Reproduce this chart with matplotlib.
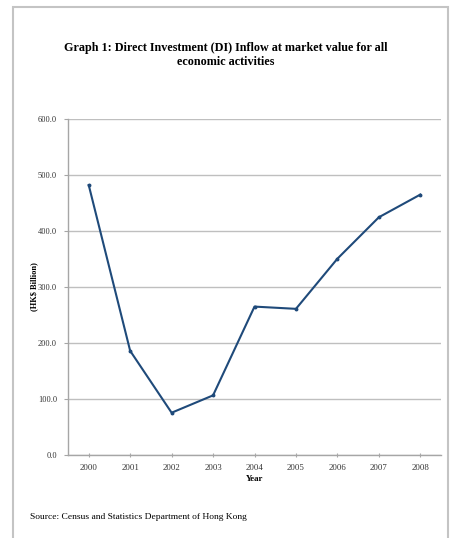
import matplotlib.pyplot as plt
from matplotlib.patches import Rectangle

# Data
years = ['2000', '2001', '2002', '2003', '2004', '2005', '2006', '2007', '2008']
inflow = [482.0, 186.0, 75.5, 106.5, 265.0, 261.0, 350.5, 424.5, 465.0]
y_ticks = [0, 100, 200, 300, 400, 500, 600]

plt.rcParams['font.family'] = ['Liberation Serif', 'DejaVu Serif']

W, H = 451, 538
fig = plt.figure(figsize=(W / 100, H / 100), dpi=100)

# outer frame (runs off the bottom of the picture)
fig.patches.append(Rectangle((13 / W, -0.05), (448 - 13) / W, 1.05 - 7 / H,
                             transform=fig.transFigure, fill=False,
                             edgecolor='#c4c4c4', linewidth=1.5))

ax = fig.add_axes([68 / W, 1 - 455 / H, (441 - 68) / W, (455 - 119) / H])

x = range(len(years))
ax.plot(x, inflow, color='#1f4a7a', linewidth=1.5, marker='o', markersize=1.8)

ax.set_xlim(-0.5, len(years) - 0.5)
ax.set_ylim(0, 600)
ax.set_xticks(list(x))
ax.set_xticklabels(years, fontsize=6.3)
ax.set_yticks(y_ticks)
ax.set_yticklabels(['%.1f' % v for v in y_ticks], fontsize=6)

ax.grid(axis='y', color='#bfbfbf', linewidth=1.0)
ax.set_axisbelow(True)
for side in ['top', 'right']:
    ax.spines[side].set_visible(False)
for side in ['left', 'bottom']:
    ax.spines[side].set_color('#a6a6a6')
    ax.spines[side].set_linewidth(1.0)
ax.tick_params(axis='both', colors='#a6a6a6', labelcolor='#333333',
               length=3, width=0.8)
ax.tick_params(axis='y', pad=5)
ax.tick_params(axis='x', direction='inout', pad=5)

ax.set_xlabel('Year', fontsize=6.3, fontweight='bold', labelpad=2)
ax.set_ylabel('(HK$ Billion)', fontsize=6, fontweight='bold')
ax.yaxis.set_label_coords((38 - 68) / 373, 0.5)

fig.text(226 / W, 1 - 55 / H,
         'Graph 1: Direct Investment (DI) Inflow at market value for all\neconomic activities',
         ha='center', va='center', fontsize=8.7, fontweight='bold', linespacing=1.3)
fig.text(30 / W, 1 - 517 / H, 'Source: Census and Statistics Department of Hong Kong',
         ha='left', va='center', fontsize=6.8)

fig.savefig('out.png', dpi=100)
